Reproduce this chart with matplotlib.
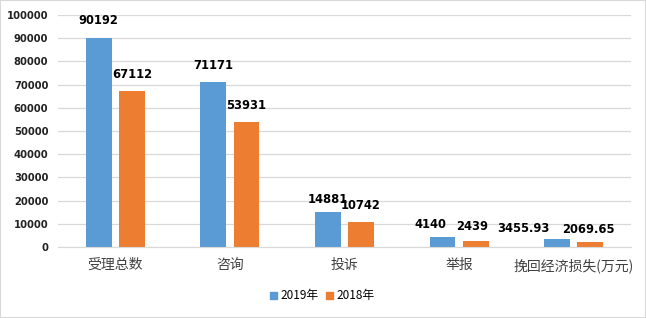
import matplotlib
matplotlib.use("Agg")
import matplotlib.pyplot as plt
from matplotlib.patches import Patch
import numpy as np

plt.rcParams['font.family'] = ['Noto Sans CJK SC', 'DejaVu Sans']

categories = ['受理总数', '咨询', '投诉', '举报', '挽回经济损失(万元)']
series_2019 = [90192, 71171, 14881, 4140, 3455.93]
series_2018 = [67112, 53931, 10742, 2439, 2069.65]
labels_2019 = ['90192', '71171', '14881', '4140', '3455.93']
labels_2018 = ['67112', '53931', '10742', '2439', '2069.65']
yticks = [0, 10000, 20000, 30000, 40000, 50000, 60000, 70000, 80000, 90000, 100000]

blue = '#5B9BD5'
orange = '#ED7D31'

fig = plt.figure(figsize=(6.46, 3.18), dpi=100)
ax = fig.add_axes([58/646, 71/318, 573/646, 232/318])

x = np.arange(len(categories))
w = 0.225
off = 0.145
ax.bar(x - off, series_2019, width=w, color=blue, zorder=3)
ax.bar(x + off, series_2018, width=w, color=orange, zorder=3)

label_dx_2019 = [0, 0, 0, -12, -34]
label_dx_2018 = [0, 0, 0, -4, -2]
label_dy_2019 = [11, 10, 6, 6, 4]
label_dy_2018 = [10, 10, 10, 8, 6]
for i in range(len(x)):
    ax.annotate(labels_2019[i], (x[i] - off, series_2019[i]), xytext=(label_dx_2019[i], label_dy_2019[i]),
                textcoords='offset pixels', ha='center', va='bottom',
                fontsize=8.3, fontweight='bold', color='black', family='DejaVu Sans')
    ax.annotate(labels_2018[i], (x[i] + off, series_2018[i]), xytext=(label_dx_2018[i], label_dy_2018[i]),
                textcoords='offset pixels', ha='center', va='bottom',
                fontsize=8.3, fontweight='bold', color='black', family='DejaVu Sans')

ax.set_xlim(-0.5, len(categories) - 0.5)
ax.set_ylim(0, 100000)
ax.set_yticks(yticks)
ax.set_yticklabels([str(v) for v in yticks], fontsize=7.2, fontweight='bold', color='#222222',
                   family='DejaVu Sans')
ax.set_xticks(x)
ax.set_xticklabels(categories, fontsize=10, color='#404040')
ax.tick_params(axis='both', length=0)
ax.tick_params(axis='y', pad=7)
ax.tick_params(axis='x', pad=8)
ax.grid(axis='y', color='#D9D9D9', linewidth=0.9, zorder=0)
for s in ['top', 'right', 'left']:
    ax.spines[s].set_visible(False)
ax.spines['bottom'].set_color('#D9D9D9')
ax.spines['bottom'].set_zorder(4)

handles = [Patch(color=blue, label='2019年'), Patch(color=orange, label='2018年')]
fig.legend(handles=handles, loc='center', bbox_to_anchor=(322/646, 1 - 296/318), ncol=2,
           frameon=False, fontsize=8.5, handlelength=0.6, handleheight=0.6,
           handletextpad=0.3, columnspacing=0.6)

fig.patches.append(plt.Rectangle((0, 0), 1, 1, transform=fig.transFigure, fill=False,
                                 edgecolor='#D9D9D9', linewidth=1.5))

fig.savefig('out.png', dpi=100)
